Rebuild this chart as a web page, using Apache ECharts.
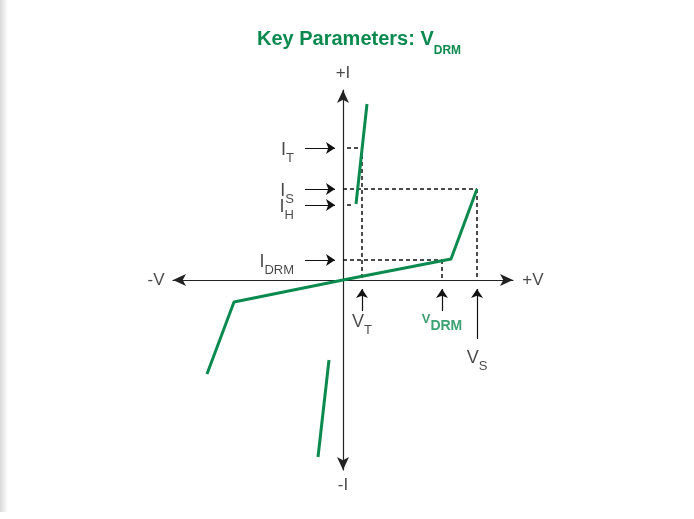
<!DOCTYPE html>
<html>
<head>
<meta charset="utf-8">
<script src="https://cdn.jsdelivr.net/npm/echarts@6/dist/echarts.min.js"></script>
<style>
  html, body { margin: 0; padding: 0; background: #fff; }
  #chart { width: 694px; height: 519px; }
</style>
</head>
<body>
<div id="chart"></div>
<script>
// I-V characteristic of a thyristor-type protector (arbitrary units)
const curveMain = [[-13.6, -9.4], [-10.9, -2.2], [0, 0], [10.8, 2.1], [13.4, 9.1]];
const curveOnState = [[1.3, 7.6], [2.4, 17.6]];
const curveNegOn = [[-1.4, -8.0], [-2.5, -17.7]];

const currentNames = ['T', 'S', 'H', 'DRM'];
const currentValues = [13.2, 9.1, 7.5, 2.0];
const voltageNames = ['T', 'DRM', 'S'];
const voltageValues = [1.9, 9.9, 13.4];

const GREEN = '#0b8a4f';
const INK = '#1a1a1a';
const FONT = '"Liberation Sans", Arial, sans-serif';

const IT = currentValues[0], IS = currentValues[1], IH = currentValues[2], IDRM = currentValues[3];
const VT = voltageValues[0], VDRM = voltageValues[1], VS = voltageValues[2];

// dashed guide lines
const guides = [
  [[0.4, IT], [VT, IT]], [[VT, IT], [VT, 0]],
  [[0, IS], [VS, IS]], [[VS, IS], [VS, 0]],
  [[0.4, IH], [0.9, IH]],
  [[0, IDRM], [VDRM, IDRM]], [[VDRM, IDRM], [VDRM, 0]]
];

// black pointer arrows
const arrows = currentValues.map(v => [[-3.8, v], [-0.8, v]])
  .concat([
    [[VT, -3.1], [VT, -0.9]],
    [[VDRM, -3.1], [VDRM, -0.9]],
    [[VS, -5.9], [VS, -0.9]]
  ]);

const sub = (main, s, style) => '{' + style + 'M|' + main + '}{' + style + 'S|' + s + '}';

const rich = {
  nM: { fontSize: 18, color: INK, fontFamily: FONT, lineHeight: 24, verticalAlign: 'top' },
  nS: { fontSize: 13, color: INK, fontFamily: FONT, lineHeight: 15, verticalAlign: 'bottom' },
  gM: { fontSize: 13, color: GREEN, fontFamily: FONT, fontWeight: 'bold', lineHeight: 20, verticalAlign: 'top' },
  gS: { fontSize: 14, color: GREEN, fontFamily: FONT, fontWeight: 'bold', lineHeight: 16, verticalAlign: 'bottom' },
  p: { fontSize: 17, color: INK, fontFamily: FONT }
};

const textMarks = [];
currentNames.forEach((n, i) => {
  textMarks.push({ value: [-4.4, currentValues[i]], label: { position: 'left', offset: [0, 5], formatter: sub('I', n, 'n') } });
});
textMarks.push({ value: [VT, -4.1], label: { position: 'inside', offset: [0, 4], formatter: sub('V', 'T', 'n') } });
textMarks.push({ value: [VDRM, -4.2], label: { position: 'inside', offset: [0, 1], formatter: sub('V', 'DRM', 'g') } });
textMarks.push({ value: [VS, -7.7], label: { position: 'inside', offset: [0, 4], formatter: sub('V', 'S', 'n') } });
textMarks.push({ value: [-18.7, 0], label: { position: 'inside', formatter: '{p|-V}' } });
textMarks.push({ value: [19.0, 0], label: { position: 'inside', formatter: '{p|+V}' } });
textMarks.push({ value: [0, 20.7], label: { position: 'inside', formatter: '{p|+I}' } });
textMarks.push({ value: [0, -20.5], label: { position: 'inside', formatter: '{p|-I}' } });

const chart = echarts.init(document.getElementById('chart'));

const greenLine = (data) => ({
  type: 'line', data: data, symbol: 'none', silent: true, z: 5,
  lineStyle: { color: GREEN, width: 3 }
});

chart.setOption({
  backgroundColor: '#fff',
  animation: false,
  title: {
    left: 252, top: 24,
    text: '{t|Key Parameters: V}{s|DRM}',
    textStyle: {
      rich: {
        t: { fontSize: 20, fontWeight: 'bold', color: GREEN, fontFamily: FONT, lineHeight: 28, verticalAlign: 'top' },
        s: { fontSize: 12, fontWeight: 'bold', color: GREEN, fontFamily: FONT, lineHeight: 12, verticalAlign: 'bottom' }
      }
    }
  },
  graphic: [{
    type: 'rect', shape: { x: 0, y: 0, width: 8, height: 512 }, silent: true,
    style: { fill: new echarts.graphic.LinearGradient(0, 0, 1, 0, [{ offset: 0, color: '#d9d9d9' }, { offset: 1, color: '#ffffff' }]) }
  }],
  grid: { left: 173, top: 90, width: 340, height: 380 },
  xAxis: {
    type: 'value', min: -17, max: 17,
    axisLine: { onZero: true, lineStyle: { color: '#222', width: 1.2 }, symbol: ['arrow', 'arrow'], symbolSize: [9, 13] },
    axisTick: { show: false }, axisLabel: { show: false }, splitLine: { show: false }
  },
  yAxis: {
    type: 'value', min: -19, max: 19,
    axisLine: { onZero: true, lineStyle: { color: '#222', width: 1.2 }, symbol: ['arrow', 'arrow'], symbolSize: [9, 13] },
    axisTick: { show: false }, axisLabel: { show: false }, splitLine: { show: false }
  },
  series: [
    greenLine(curveMain),
    greenLine(curveOnState),
    greenLine(curveNegOn),
    {
      type: 'lines', coordinateSystem: 'cartesian2d', silent: true, z: 3,
      data: guides.map(c => ({ coords: c })),
      lineStyle: { color: '#111', width: 1.5, type: [4, 3], opacity: 1 }
    },
    {
      type: 'lines', coordinateSystem: 'cartesian2d', silent: true, z: 3,
      symbol: ['none', 'arrow'], symbolSize: 9,
      data: arrows.map(c => ({ coords: c })),
      lineStyle: { color: '#111', width: 1.2, opacity: 1 }
    },
    {
      type: 'scatter', symbolSize: 0, clip: false, silent: true, z: 6,
      data: textMarks,
      label: { show: true, rich: rich }
    }
  ]
});
</script>
</body>
</html>
